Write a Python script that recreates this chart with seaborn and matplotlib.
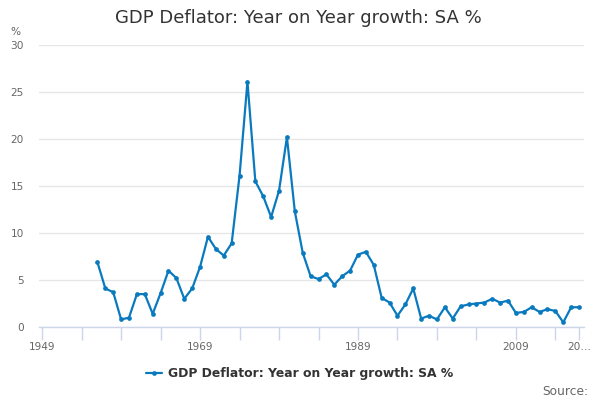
import numpy as np
import pandas as pd
import matplotlib
matplotlib.use("Agg")
import matplotlib.pyplot as plt
import seaborn as sns

# values (annual, 1956-2017)
years = list(range(1956, 2018))
growth = [6.9, 4.1, 3.7, 0.8, 1.0, 3.5, 3.5, 1.4, 3.6, 6.0,
          5.2, 3.0, 4.1, 6.4, 9.6, 8.3, 7.6, 8.9, 16.1, 26.1,
          15.5, 13.9, 11.7, 14.5, 20.2, 12.3, 7.9, 5.4, 5.1, 5.6,
          4.5, 5.4, 6.0, 7.7, 8.0, 6.6, 3.1, 2.6, 1.2, 2.4,
          4.1, 0.9, 1.2, 0.8, 2.1, 0.9, 2.2, 2.4, 2.5, 2.6,
          3.0, 2.6, 2.8, 1.5, 1.6, 2.1, 1.6, 1.9, 1.7, 0.5,
          2.1, 2.1]
series_name = "GDP Deflator: Year on Year growth: SA %"
tick_years = [1949, 1969, 1989, 2009, 2017]
tick_labels = ["1949", "1969", "1989", "2009", "20\u2026"]
minor_years = list(range(1954, 2017, 5))
y_ticks = [0, 5, 10, 15, 20, 25, 30]

df = pd.DataFrame({"year": years, "value": growth})

sns.set_style("white")
plt.rcParams['font.family'] = ['DejaVu Sans']

line_color = "#0a7abf"
grid_color = "#e6e6e6"
axis_color = "#ccd6eb"
text_grey = "#666666"

fig = plt.figure(figsize=(6, 4), dpi=100)
ax = fig.add_axes([0.065, 0.1825, 0.908, 0.705])

sns.lineplot(data=df, x="year", y="value", ax=ax, color=line_color,
             marker="o", markersize=3.4, markeredgewidth=0, linewidth=1.6,
             label=series_name, legend=False)

ax.set_xlim(1948.6, 2017.6)
ax.set_ylim(0, 30)
ax.set_yticks(y_ticks)
ax.set_yticklabels([str(v) for v in y_ticks], color=text_grey, fontsize=7.6)
ax.yaxis.grid(True, color=grid_color, linewidth=1)
ax.set_axisbelow(True)
ax.tick_params(axis="y", length=0, pad=11)

ax.set_xticks(tick_years)
ax.set_xticklabels(tick_labels, color=text_grey, fontsize=7.6)
ax.set_xticks(minor_years, minor=True)
ax.tick_params(axis="x", which="both", bottom=True, length=9, width=1,
               color=axis_color, direction="out", pad=2)

for side in ["top", "right", "left"]:
    ax.spines[side].set_visible(False)
ax.spines["bottom"].set_color(axis_color)
ax.spines["bottom"].set_linewidth(1)
ax.set_xlabel("")
ax.set_ylabel("")

fig.text(0.497, 0.955, series_name, ha="center", va="center",
         fontsize=13, color="#333333")
fig.text(0.017, 0.92, "%", ha="left", va="center", fontsize=7.6, color=text_grey)
fig.text(0.98, 0.022, "Source:", ha="right", va="center", fontsize=8.8, color=text_grey)

handles = ax.get_lines()[:1]
leg = fig.legend(handles, [series_name], loc="center", bbox_to_anchor=(0.5, 0.065),
                 frameon=False, handlelength=1.3, handletextpad=0.5,
                 prop={"weight": "bold", "size": 8.9})
for t in leg.get_texts():
    t.set_color("#333333")

fig.savefig("out.png", dpi=100)
